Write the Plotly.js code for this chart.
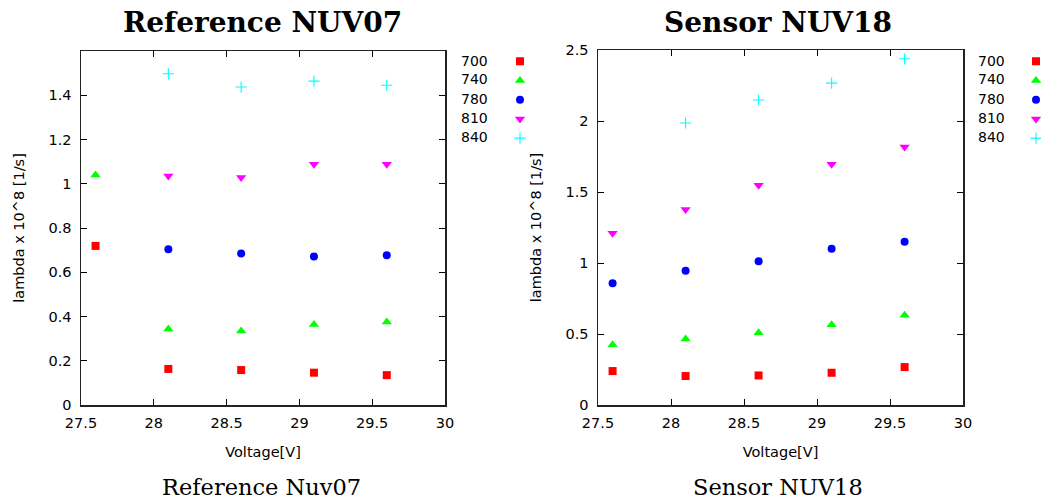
<!DOCTYPE html>
<html><head><meta charset="utf-8">
<script src="https://cdn.plot.ly/plotly-3.0.1.min.js"></script>
<style>html,body{margin:0;padding:0;background:#fff}#chart{width:1041px;height:502px}</style>
</head><body><div id="chart"></div>
<script>
const voltages = [27.6, 28.1, 28.6, 29.1, 29.6];
const seriesNames = ["700", "740", "780", "810", "840"];
const ref700 = [0.719, 0.163, 0.158, 0.146, 0.135];
const ref740 = [1.04, 0.343, 0.335, 0.364, 0.375];
const ref780 = [null, 0.704, 0.685, 0.671, 0.677];
const ref810 = [null, 1.035, 1.028, 1.088, 1.088];
const ref840 = [null, 1.497, 1.437, 1.464, 1.445];
const sen700 = [0.239, 0.204, 0.208, 0.227, 0.267];
const sen740 = [0.424, 0.464, 0.508, 0.566, 0.632];
const sen780 = [0.857, 0.946, 1.012, 1.100, 1.150];
const sen810 = [1.209, 1.377, 1.548, 1.696, 1.817];
const sen840 = [null, 1.986, 2.148, 2.267, 2.438];
const xTicks = [27.5, 28, 28.5, 29, 29.5, 30];
const refYTicks = [0, 0.2, 0.4, 0.6, 0.8, 1, 1.2, 1.4];
const senYTicks = [0, 0.5, 1, 1.5, 2, 2.5];

const colors = ["#ff0000", "#00ff00", "#0000ff", "#ff00ff", "#00ffff"];
const symbols = ["square", "triangle-up", "circle", "triangle-down", "cross-thin"];
const sizes = [8, 9, 8, 9, 8];
const refData = [ref700, ref740, ref780, ref810, ref840];
const senData = [sen700, sen740, sen780, sen810, sen840];

const traces = [];
function addSet(data, xa, ya, leg) {
  data.forEach((vals, i) => {
    traces.push({
      type: "scatter", mode: "markers", x: voltages, y: vals,
      xaxis: xa, yaxis: ya, name: "", legend: leg,
      marker: { symbol: symbols[i], size: sizes[i], color: colors[i],
        line: { color: colors[i], width: i === 4 ? 1.1 : 0 } },
      hoverinfo: "x+y"
    });
  });
}
addSet(refData, "x", "y", "legend");
addSet(senData, "x2", "y2", "legend2");

const tickFont = { family: "DejaVu Sans", size: 14.5, color: "#000" };
function xAxis(dom, anchor) {
  return { domain: dom, anchor: anchor, range: [27.5, 30], tickvals: xTicks,
    ticktext: xTicks.map(String), ticks: "inside", ticklen: 6, tickwidth: 1,
    tickcolor: "#000", showline: true, linecolor: "#222", linewidth: 1.5,
    mirror: "ticks", showgrid: false, zeroline: false, tickfont: tickFont,
    ticklabelstandoff: 4, automargin: false,
    title: { text: "Voltage[V]", font: { family: "DejaVu Sans", size: 14.5, color: "#000" }, standoff: 17 } };
}
function yAxis(dom, anchor, range, tv) {
  return { domain: dom, anchor: anchor, range: range, tickvals: tv,
    ticktext: tv.map(String), ticks: "inside", ticklen: 6, tickwidth: 1,
    tickcolor: "#000", showline: true, linecolor: "#222", linewidth: 1.5,
    mirror: "ticks", showgrid: false, zeroline: false, tickfont: tickFont,
    ticklabelstandoff: 5, automargin: false,
    title: { text: "lambda x 10^8 [1/s]", font: { family: "DejaVu Sans", size: 14.5, color: "#000" }, standoff: 20 } };
}

const W = 1041, H = 502;
const px = v => v / W, py = v => 1 - v / H;
const legendYs = [60.5, 79.5, 99, 118.2, 137.4];
const annotations = [];
seriesNames.forEach((n, i) => {
  annotations.push({ xref: "paper", yref: "paper", x: px(490), y: py(legendYs[i]), xanchor: "right", yanchor: "middle",
    text: n, showarrow: false, font: { family: "DejaVu Sans", size: 14, color: "#000" } });
  annotations.push({ xref: "paper", yref: "paper", x: px(1007), y: py(legendYs[i]), xanchor: "right", yanchor: "middle",
    text: n, showarrow: false, font: { family: "DejaVu Sans", size: 14, color: "#000" } });
});
annotations.push({ xref: "paper", yref: "paper", x: px(262), y: py(23), xanchor: "center", yanchor: "middle",
  text: "<b>Reference NUV07</b>", showarrow: false, font: { family: "DejaVu Serif", size: 28, color: "#000" } });
annotations.push({ xref: "paper", yref: "paper", x: px(778), y: py(23), xanchor: "center", yanchor: "middle",
  text: "<b>Sensor NUV18</b>", showarrow: false, font: { family: "DejaVu Serif", size: 28, color: "#000" } });
annotations.push({ xref: "paper", yref: "paper", x: px(261), y: py(487), xanchor: "center", yanchor: "middle",
  text: "Reference Nuv07", showarrow: false, font: { family: "DejaVu Serif", size: 22.5, color: "#000" } });
annotations.push({ xref: "paper", yref: "paper", x: px(778), y: py(487), xanchor: "center", yanchor: "middle",
  text: "Sensor NUV18", showarrow: false, font: { family: "DejaVu Serif", size: 22.5, color: "#000" } });

const legendBase = { yanchor: "top", xanchor: "left", bgcolor: "rgba(0,0,0,0)", borderwidth: 0,
  font: { family: "DejaVu Sans", size: 12.5 }, tracegroupgap: 0, traceorder: "normal", itemclick: false, itemdoubleclick: false };

const layout = {
  width: W, height: H, margin: { l: 0, r: 0, t: 0, b: 0, autoexpand: false },
  paper_bgcolor: "#fff", plot_bgcolor: "#fff", showlegend: true,
  xaxis: xAxis([px(81), px(445)], "y"),
  yaxis: yAxis([py(405), py(51)], "x", [0, 1.6], refYTicks),
  xaxis2: xAxis([px(598), px(963)], "y2"),
  yaxis2: yAxis([py(405), py(50)], "x2", [0, 2.5], senYTicks),
  legend: Object.assign({}, legendBase, { x: px(500), y: py(46.5) }),
  legend2: Object.assign({}, legendBase, { x: px(1016), y: py(46.5) }),
  annotations: annotations
};
Plotly.newPlot("chart", traces, layout, { staticPlot: true });
</script></body></html>
